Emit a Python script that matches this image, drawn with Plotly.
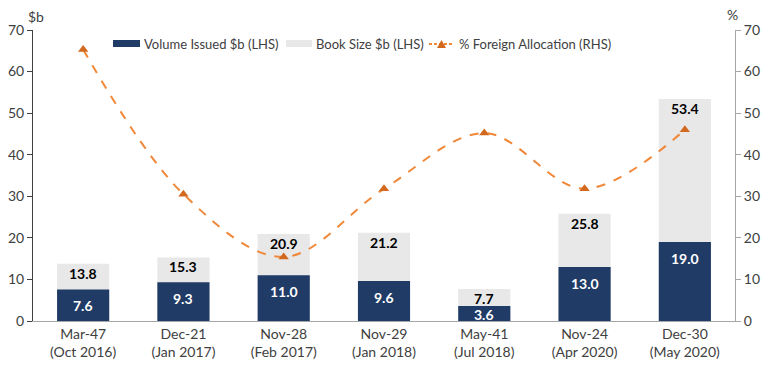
import plotly.graph_objects as go

categories = ["Mar-47<br>(Oct 2016)", "Dec-21<br>(Jan 2017)", "Nov-28<br>(Feb 2017)",
              "Nov-29<br>(Jan 2018)", "May-41<br>(Jul 2018)", "Nov-24<br>(Apr 2020)",
              "Dec-30<br>(May 2020)"]
volume_issued = [7.6, 9.3, 11.0, 9.6, 3.6, 13.0, 19.0]
book_size = [13.8, 15.3, 20.9, 21.2, 7.7, 25.8, 53.4]
foreign_alloc = [65.3, 30.5, 15.4, 31.8, 45.2, 31.8, 46.0]
y_ticks = [0, 10, 20, 30, 40, 50, 60, 70]
series_names = ["Volume Issued $b (LHS)", "Book Size $b (LHS)", "% Foreign Allocation (RHS)"]

FONT = "Lato, 'DejaVu Sans', sans-serif"
NAVY = "#1F3B66"
GREY = "#E8E8E8"
ORANGE = "#F0883A"
ORANGE_DARK = "#D2691E"

W, H = 768, 384
ML, MR, MT, MB = 33, 33, 30, 63
PW, PH = W - ML - MR, H - MT - MB
PX_PER_UNIT = PH / 70


def px_x(px):
    return (px - ML) / PW


def px_y(py):
    return (H - MB - py) / PH


fig = go.Figure()

fig.add_trace(go.Bar(
    x=categories, y=book_size, name=series_names[1],
    marker=dict(color=GREY, line=dict(width=0)),
    width=0.52, hoverinfo="skip", showlegend=False,
))
fig.add_trace(go.Bar(
    x=categories, y=volume_issued, name=series_names[0],
    marker=dict(color=NAVY, line=dict(width=0)),
    width=0.52, hoverinfo="skip", showlegend=False,
))
fig.add_trace(go.Scatter(
    x=categories, y=foreign_alloc, name=series_names[2],
    mode="lines+markers", yaxis="y2",
    line=dict(color=ORANGE, width=2, dash="dash", shape="spline", smoothing=1.0),
    marker=dict(symbol="triangle-up", size=9, color=ORANGE_DARK),
    hoverinfo="skip", showlegend=False,
))

annotations = []
for c, v in zip(categories, book_size):
    annotations.append(dict(x=c, y=v, xref="x", yref="y", text=f"{v:.1f}",
                            showarrow=False, yanchor="top", yshift=1,
                            font=dict(color="black", size=14, family=FONT, weight="bold")))
for c, v in zip(categories, volume_issued):
    if v * PX_PER_UNIT < 30:
        annotations.append(dict(x=c, y=v / 2, xref="x", yref="y", text=f"{v:.1f}",
                                showarrow=False, yanchor="middle", yshift=-1,
                                font=dict(color="white", size=14, family=FONT, weight="bold")))
    else:
        annotations.append(dict(x=c, y=v, xref="x", yref="y", text=f"{v:.1f}",
                                showarrow=False, yanchor="top", yshift=-6,
                                font=dict(color="white", size=14, family=FONT, weight="bold")))

annotations += [
    dict(text="$b", xref="paper", yref="paper", x=0, y=1, xanchor="center",
         yanchor="bottom", xshift=3, yshift=3, showarrow=False,
         font=dict(size=14, color="#404040", family=FONT)),
    dict(text="%", xref="paper", yref="paper", x=1, y=1, xanchor="center",
         yanchor="bottom", xshift=-3, yshift=5, showarrow=False,
         font=dict(size=14, color="#404040", family=FONT)),
]

# manual legend (compact, like the reference)
LEG_Y = 44
shapes = [
    dict(type="rect", xref="paper", yref="paper", x0=px_x(113), x1=px_x(140),
         y0=px_y(47), y1=px_y(40), fillcolor=NAVY, line=dict(width=0)),
    dict(type="rect", xref="paper", yref="paper", x0=px_x(286), x1=px_x(312),
         y0=px_y(47), y1=px_y(40), fillcolor=GREY, line=dict(width=0)),
    dict(type="line", xref="paper", yref="paper", x0=px_x(429), x1=px_x(454),
         y0=px_y(LEG_Y), y1=px_y(LEG_Y), line=dict(color=ORANGE, width=2, dash="3px,2px")),
    dict(type="path", xref="paper", yref="paper",
         path=f"M {px_x(437)},{px_y(48)} L {px_x(446)},{px_y(48)} L {px_x(441.5)},{px_y(40)} Z",
         fillcolor=ORANGE_DARK, line=dict(width=0)),
]
for name, px in zip(series_names, [142, 314, 457]):
    annotations.append(dict(text=name, xref="paper", yref="paper", x=px_x(px), y=px_y(LEG_Y),
                            xanchor="left", yanchor="middle", showarrow=False,
                            font=dict(size=13, color="#404040", family=FONT)))

fig.update_layout(
    width=W, height=H,
    margin=dict(l=ML, r=MR, t=MT, b=MB),
    barmode="overlay",
    plot_bgcolor="white", paper_bgcolor="white",
    font=dict(family=FONT, size=14, color="#404040"),
    showlegend=False,
    xaxis=dict(showline=True, linecolor="#A6A6A6", linewidth=1, ticks="",
               tickfont=dict(size=14, color="#404040"), showgrid=False,
               automargin=False),
    yaxis=dict(range=[0, 70], tickvals=y_ticks, showline=True, linecolor="#404040",
               linewidth=1, ticks="outside", ticklen=5, tickcolor="#404040",
               showgrid=False, zeroline=False, tickfont=dict(size=14, color="#404040"),
               automargin=False),
    yaxis2=dict(range=[0, 70], tickvals=y_ticks, overlaying="y", side="right",
                showline=True, linecolor="#A6A6A6", linewidth=1, ticks="outside",
                ticklen=5, tickcolor="#A6A6A6", showgrid=False, zeroline=False,
                tickfont=dict(size=14, color="#404040"), automargin=False),
    annotations=annotations,
    shapes=shapes,
)

fig.write_html("out.html", config={"displayModeBar": False},
               post_script="document.body.style.margin='0';")
